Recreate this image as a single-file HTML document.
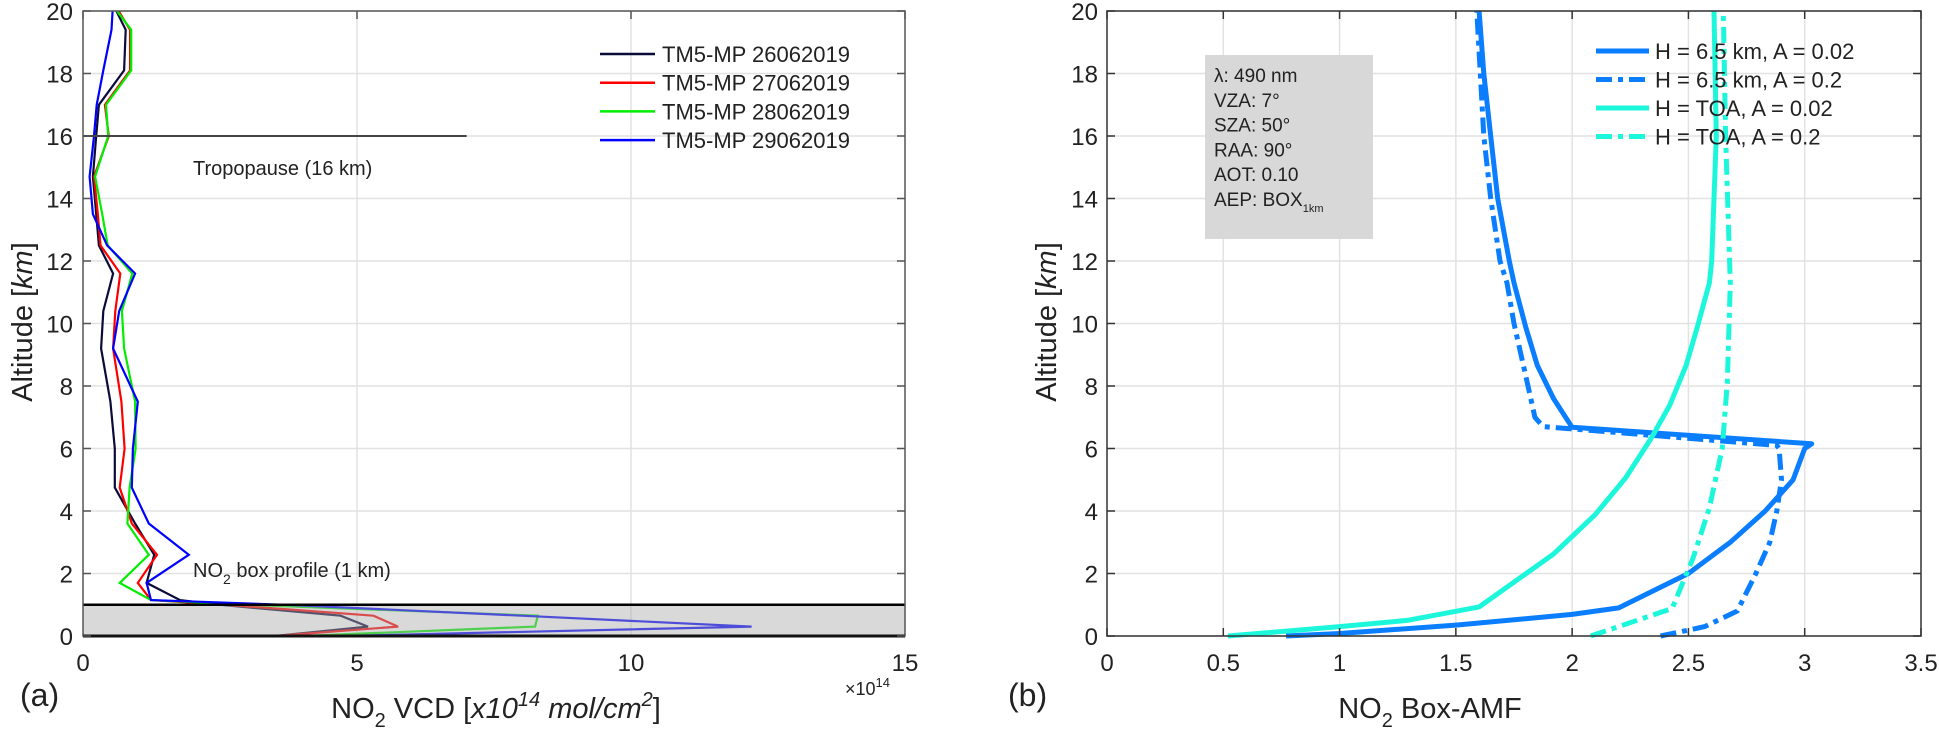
<!DOCTYPE html>
<html><head><meta charset="utf-8">
<style>
html,body{margin:0;padding:0;background:#fff;}
svg{display:block;}
text{font-family:"Liberation Sans",sans-serif;fill:#222;}
.tick{font-family:"Liberation Sans Narrow","Liberation Sans",sans-serif;font-size:24px;}
</style></head>
<body>
<svg id="fig" width="1939" height="737" viewBox="0 0 1939 737" xmlns="http://www.w3.org/2000/svg">
<g id="pa"></g>
<g id="pb"></g>
</svg>
<script>
// ---------- Panel (a) data ----------
const levelsA = [20,19.4,18.1,17,16,14.7,13.5,12.5,11.6,10.4,9.2,7.5,6,4.75,3.6,2.6,1.7,1.15,1.0,0.65,0.3,0];
const vcd26 = [0.61,0.78,0.75,0.29,0.24,0.18,0.24,0.29,0.55,0.37,0.33,0.5,0.58,0.58,0.95,1.3,1.16,1.77,2.5,4.7,5.2,3.5];
const vcd27 = [0.65,0.86,0.86,0.4,0.47,0.2,0.27,0.32,0.68,0.59,0.55,0.7,0.76,0.67,0.89,1.35,1.0,1.24,2.6,5.3,5.75,3.5];
const vcd28 = [0.62,0.88,0.88,0.42,0.46,0.22,0.35,0.45,0.9,0.71,0.75,0.95,0.96,0.85,0.81,1.2,0.67,1.24,3.0,8.3,8.25,4.0];
const vcd29 = [0.54,0.52,0.37,0.25,0.2,0.12,0.18,0.44,0.95,0.66,0.55,1.0,0.91,0.89,1.2,1.93,1.16,1.24,3.7,8.0,12.2,4.7];
const seriesANames = ["TM5-MP 26062019","TM5-MP 27062019","TM5-MP 28062019","TM5-MP 29062019"];
const xTicksA = [0,5,10,15];
const yTicks = [0,2,4,6,8,10,12,14,16,18,20];
// ---------- Panel (b) data ----------
const altB1 = [0,0.08,0.35,0.69,0.9,2,3,4,5,6,6.15,6.68,7.6,8.66,9.9,11.3,12,14,16,18,20];
const amfH65A002 = [0.77,1.0,1.5,2.0,2.2,2.5,2.68,2.83,2.95,3.0,3.03,2.0,1.92,1.85,1.8,1.75,1.73,1.68,1.65,1.62,1.6];
const altB2 = [0,0.3,0.8,2,3,4,5,6,6.1,6.7,7,8,10,11.3,12,14,16,20];
const amfH65A02 = [2.38,2.57,2.71,2.79,2.85,2.88,2.9,2.89,2.88,1.875,1.84,1.81,1.75,1.72,1.69,1.65,1.62,1.59];
const altB3 = [0,0.3,0.5,0.93,2.62,3.89,5.06,6.33,7.39,8.66,9.93,11.3,12,16,20];
const amfTOAA002 = [0.52,1.0,1.29,1.6,1.92,2.10,2.23,2.34,2.42,2.49,2.54,2.59,2.6,2.62,2.61];
const altB4 = [0,0.88,2.5,4.1,6,8.1,11.3,16,20];
const amfTOAA02 = [2.08,2.43,2.52,2.59,2.645,2.667,2.68,2.66,2.65];
const seriesBNames = ["H = 6.5 km, A = 0.02","H = 6.5 km, A = 0.2","H = TOA, A = 0.02","H = TOA, A = 0.2"];
const xTicksB = [0,0.5,1,1.5,2,2.5,3,3.5];

const NS="http://www.w3.org/2000/svg";
function mk(parent,tag,attrs,txt){const e=document.createElementNS(NS,tag);for(const k in attrs)e.setAttribute(k,attrs[k]);if(txt!==undefined)e.textContent=txt;parent.appendChild(e);return e;}

const plotTop=11, plotBot=636;
const yS = v => plotBot - (v/20)*(plotBot-plotTop);

// ===== Panel a =====
const A = document.getElementById('pa');
const ax0=83, ax1=905;
const xA = v => ax0 + (v/15)*(ax1-ax0);
yTicks.forEach(t=>{const l=mk(A,'line',{x1:ax0,x2:ax1,y1:yS(t),y2:yS(t),stroke:'#e2e2e2','stroke-width':1.5});

});
xTicksA.slice(1,3).forEach(t=>{const l=mk(A,'line',{x1:xA(t),x2:xA(t),y1:plotTop,y2:plotBot,stroke:'#e2e2e2','stroke-width':1.5});

});
const colsA=['#0b0b3a','#ff0000','#00ee00','#0000ff'];
const dataA=[vcd26,vcd27,vcd28,vcd29];
dataA.forEach((s,i)=>{const pts=s.map((v,j)=>xA(v).toFixed(1)+','+yS(levelsA[j]).toFixed(1)).join(' ');
const p=mk(A,'polyline',{points:pts,fill:'none',stroke:colsA[i],'stroke-width':2.2,'stroke-linejoin':'miter'});

});
const bx=mk(A,'rect',{x:ax0,y:yS(1),width:ax1-ax0,height:yS(0)-yS(1),fill:'rgba(170,170,170,0.45)'});


const bl=mk(A,'line',{x1:ax0,x2:ax1,y1:yS(1),y2:yS(1),stroke:'#000','stroke-width':2.5});


const tp=mk(A,'line',{x1:ax0,x2:xA(7),y1:yS(16),y2:yS(16),stroke:'#444','stroke-width':2});


const tpt=mk(A,'text',{x:193,y:175,'font-size':20},'Tropopause (16 km)');


const bpt=mk(A,'text',{x:193,y:577,'font-size':20});
bpt.innerHTML='NO<tspan dy="7" font-size="14">2</tspan><tspan dy="-7"> box profile (1 km)</tspan>';


const fa=mk(A,'rect',{x:ax0,y:plotTop,width:ax1-ax0,height:plotBot-plotTop,fill:'none',stroke:'#555','stroke-width':1.5});


mk(A,'line',{x1:ax0,x2:ax1,y1:plotBot,y2:plotBot,stroke:'#111','stroke-width':3});
yTicks.forEach(t=>{mk(A,'line',{x1:ax0,x2:ax0+8,y1:yS(t),y2:yS(t),stroke:'#555','stroke-width':1.5});
mk(A,'line',{x1:ax1-8,x2:ax1,y1:yS(t),y2:yS(t),stroke:'#555','stroke-width':1.5});
const e=mk(A,'text',{x:73,y:yS(t)+9,'text-anchor':'end',class:'tick'},String(t));

});
xTicksA.forEach(t=>{mk(A,'line',{x1:xA(t),x2:xA(t),y1:plotTop,y2:plotTop+8,stroke:'#555','stroke-width':1.5});
const e=mk(A,'text',{x:xA(t),y:671,'text-anchor':'middle',class:'tick'},String(t));

});
const ya=mk(A,'text',{transform:'translate(32,322) rotate(-90)','text-anchor':'middle','font-size':29});
ya.innerHTML='Altitude [<tspan font-style="italic">km</tspan>]';


const xa=mk(A,'text',{x:496,y:718,'text-anchor':'middle','font-size':29,'font-family':'Liberation Sans Narrow, Liberation Sans, sans-serif'});
xa.innerHTML='NO<tspan dy="9" font-size="20">2</tspan><tspan dy="-9"> VCD [</tspan><tspan font-style="italic">x10</tspan><tspan font-style="italic" dy="-12" font-size="20">14</tspan><tspan font-style="italic" dy="12"> mol/cm</tspan><tspan font-style="italic" dy="-12" font-size="20">2</tspan><tspan dy="12">]</tspan>';


const ex=mk(A,'text',{x:845,y:695,'font-size':18});
ex.innerHTML='×10<tspan dy="-8" font-size="13">14</tspan>';


const la=mk(A,'text',{x:20,y:706,'font-size':32},'(a)');


const legA=mk(A,'g',{});


seriesANames.forEach((n,i)=>{const y=54+i*28.7;
mk(legA,'line',{x1:600,x2:655,y1:y,y2:y,stroke:colsA[i],'stroke-width':2.5});
const t=mk(legA,'text',{x:662,y:y+8,'font-size':22},n);

});

// ===== Panel b =====
const B=document.getElementById('pb');
const bx0=1107,bx1=1921;
const xB=v=>bx0+(v/3.5)*(bx1-bx0);
yTicks.forEach(t=>{const l=mk(B,'line',{x1:bx0,x2:bx1,y1:yS(t),y2:yS(t),stroke:'#e2e2e2','stroke-width':1.5});

});
xTicksB.slice(1,-1).forEach(t=>{const l=mk(B,'line',{x1:xB(t),x2:xB(t),y1:plotTop,y2:plotBot,stroke:'#e2e2e2','stroke-width':1.5});

});
const blue='#0a7eff', cyan='#1cf7dc';
const sB=[[altB1,amfH65A002,blue,''],[altB2,amfH65A02,blue,'16 6 5 6'],[altB3,amfTOAA002,cyan,''],[altB4,amfTOAA02,cyan,'16 6 5 6']];
sB.forEach((s,i)=>{const pts=s[1].map((v,j)=>xB(v).toFixed(1)+','+yS(s[0][j]).toFixed(1)).join(' ');
const a={points:pts,fill:'none',stroke:s[2],'stroke-width':5,'stroke-linejoin':'round'};
if(s[3])a['stroke-dasharray']=s[3];
const p=mk(B,'polyline',a);

});
const fb=mk(B,'rect',{x:bx0,y:plotTop,width:bx1-bx0,height:plotBot-plotTop,fill:'none',stroke:'#333','stroke-width':1.5});


yTicks.forEach(t=>{mk(B,'line',{x1:bx0,x2:bx0+8,y1:yS(t),y2:yS(t),stroke:'#333','stroke-width':1.5});
mk(B,'line',{x1:bx1-8,x2:bx1,y1:yS(t),y2:yS(t),stroke:'#333','stroke-width':1.5});
const e=mk(B,'text',{x:1098,y:yS(t)+9,'text-anchor':'end',class:'tick'},String(t));

});
xTicksB.forEach(t=>{mk(B,'line',{x1:xB(t),x2:xB(t),y1:plotTop,y2:plotTop+8,stroke:'#333','stroke-width':1.5});
mk(B,'line',{x1:xB(t),x2:xB(t),y1:plotBot-8,y2:plotBot,stroke:'#333','stroke-width':1.5});
const e=mk(B,'text',{x:xB(t),y:671,'text-anchor':'middle',class:'tick'},String(t));

});
const yb=mk(B,'text',{transform:'translate(1056,322) rotate(-90)','text-anchor':'middle','font-size':29});
yb.innerHTML='Altitude [<tspan font-style="italic">km</tspan>]';


const xb=mk(B,'text',{x:1430,y:718,'text-anchor':'middle','font-size':29,'font-family':'Liberation Sans Narrow, Liberation Sans, sans-serif'});
xb.innerHTML='NO<tspan dy="9" font-size="20">2</tspan><tspan dy="-9"> Box-AMF</tspan>';


const lb=mk(B,'text',{x:1008,y:706,'font-size':32},'(b)');


const ib=mk(B,'g',{});


mk(ib,'rect',{x:1205,y:55,width:168,height:184,fill:'#d8d8d8'});
const info=['λ: 490 nm','VZA: 7°','SZA: 50°','RAA: 90°','AOT: 0.10'];
info.forEach((s,i)=>{const t=mk(ib,'text',{x:1214,y:82+i*24.8,'font-size':19},s);

});
const aep=mk(ib,'text',{x:1214,y:82+5*24.8,'font-size':19});
aep.innerHTML='AEP: BOX<tspan dy="6" font-size="11">1km</tspan>';


const legB=mk(B,'g',{});


seriesBNames.forEach((n,i)=>{const y=51+i*28.5;const c=i<2?blue:cyan;
const a={x1:1596,x2:1649,y1:y,y2:y,stroke:c,'stroke-width':5};
if(i%2)a['stroke-dasharray']='16 6 5 6';
mk(legB,'line',a);
const t=mk(legB,'text',{x:1655,y:y+8,'font-size':22},n);

});
</script>
</body></html>
